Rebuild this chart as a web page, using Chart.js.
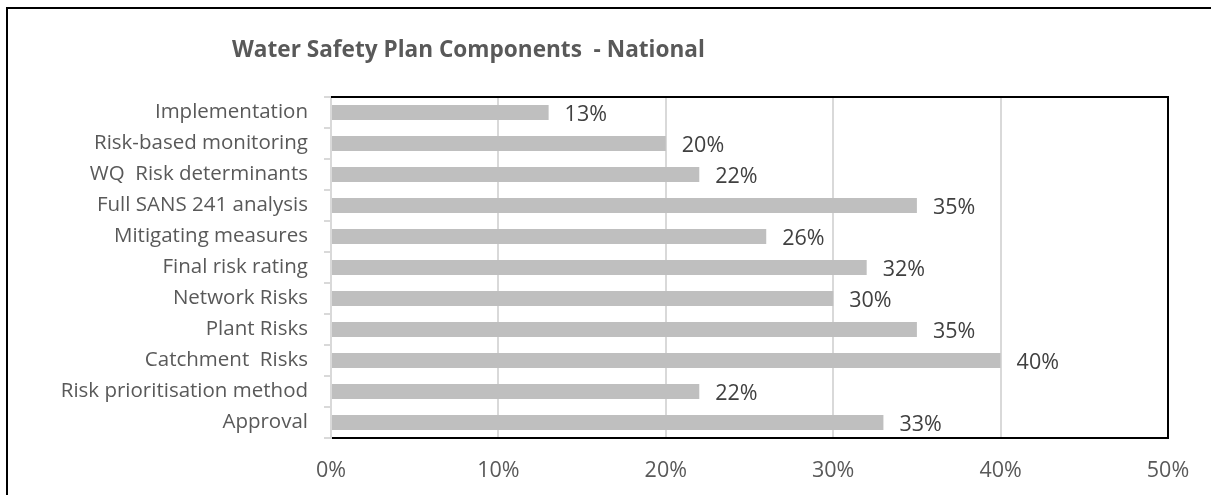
<!DOCTYPE html>
<html>
<head>
<meta charset="utf-8">
<script src="https://cdn.jsdelivr.net/npm/chart.js@4/dist/chart.umd.min.js"></script>
<style>
    html, body { margin: 0; padding: 0; background: #fff; overflow: hidden; }
    #wrap { position: relative; width: 1211px; height: 495px; }
    /* frame of the chart object, runs past the right and bottom edges */
    #frame {
        position: absolute; left: 6px; top: 7px;
        width: 1400px; height: 700px;
        border: 2px solid #000;
    }
    #chart { position: absolute; left: 0; top: 0; }
</style>
</head>
<body>
<div id="wrap">
    <div id="frame"></div>
    <canvas id="chart" width="1211" height="495"></canvas>
</div>
<script>
    'use strict';

    var chartTitle = 'Water Safety Plan Components  - National';

    var categories = [
        'Implementation',
        'Risk-based monitoring',
        'WQ  Risk determinants',
        'Full SANS 241 analysis',
        'Mitigating measures',
        'Final risk rating',
        'Network Risks',
        'Plant Risks',
        'Catchment  Risks',
        'Risk prioritisation method',
        'Approval'
    ];

    // percent of systems with each component in place
    var values = [13, 20, 22, 35, 26, 32, 30, 35, 40, 22, 33];

    var xTicks = [0, 10, 20, 30, 40, 50];

    var textColor = '#595959';
    var fontFamily = '"Open Sans", "Noto Sans", sans-serif';
    var fontSize = 20.5;

    /**
     * 제목 그리기
     */
    var titlePlugin = {
        id: 'sheetTitle',
        afterDraw: function(chart) {
            var ctx = chart.ctx;
            ctx.save();
            ctx.font = 'bold 22.6px ' + fontFamily;
            ctx.fillStyle = textColor;
            ctx.textAlign = 'left';
            ctx.textBaseline = 'middle';
            ctx.fillText(chartTitle, 232, 51);
            ctx.restore();
        }
    };

    /**
     * 플롯 영역 테두리 (위, 오른쪽)
     */
    var plotBorderPlugin = {
        id: 'plotBorder',
        afterDraw: function(chart) {
            var a = chart.chartArea;
            var ctx = chart.ctx;
            ctx.save();
            ctx.strokeStyle = '#000';
            ctx.lineWidth = 2;
            ctx.beginPath();
            ctx.moveTo(a.left, a.top);
            ctx.lineTo(a.right, a.top);
            ctx.lineTo(a.right, a.bottom);
            ctx.stroke();
            ctx.restore();
        }
    };

    /**
     * 막대 끝 값 라벨
     */
    var valueLabelPlugin = {
        id: 'valueLabels',
        afterDatasetsDraw: function(chart) {
            var ctx = chart.ctx;
            var meta = chart.getDatasetMeta(0);
            ctx.save();
            ctx.font = '21.5px ' + fontFamily;
            ctx.fillStyle = '#404040';
            ctx.textAlign = 'left';
            ctx.textBaseline = 'middle';
            meta.data.forEach(function(bar, i) {
                ctx.fillText(Math.round(values[i]) + '%', bar.x + 16, bar.y + 2);
            });
            ctx.restore();
        }
    };

    new Chart(document.getElementById('chart'), {
        type: 'bar',
        data: {
            labels: categories,
            datasets: [{
                data: values,
                backgroundColor: '#BFBFBF',
                borderWidth: 0,
                barPercentage: 0.48,
                categoryPercentage: 1
            }]
        },
        options: {
            indexAxis: 'y',
            responsive: false,
            animation: false,
            layout: {
                padding: { top: 97, right: 43, left: 0, bottom: 0 }
            },
            plugins: {
                legend: { display: false },
                tooltip: { enabled: false }
            },
            scales: {
                x: {
                    min: 0,
                    max: 50,
                    afterBuildTicks: function(scale) {
                        scale.ticks = xTicks.map(function(v) { return { value: v }; });
                    },
                    afterFit: function(scale) {
                        scale.height = 57;
                    },
                    grid: {
                        color: '#D9D9D9',
                        lineWidth: 2,
                        drawTicks: false
                    },
                    border: { color: '#000', width: 2 },
                    ticks: {
                        color: textColor,
                        font: { family: fontFamily, size: 21.5 },
                        padding: 20,
                        callback: function(v) { return v + '%'; }
                    }
                },
                y: {
                    afterFit: function(scale) {
                        scale.width = 331;
                    },
                    grid: {
                        drawOnChartArea: false,
                        color: '#D9D9D9',
                        lineWidth: 2,
                        tickLength: 7
                    },
                    border: { color: '#D9D9D9', width: 2 },
                    ticks: {
                        color: textColor,
                        font: { family: fontFamily, size: fontSize },
                        padding: 16,
                        autoSkip: false
                    }
                }
            }
        },
        plugins: [valueLabelPlugin, plotBorderPlugin, titlePlugin]
    });
</script>
</body>
</html>
